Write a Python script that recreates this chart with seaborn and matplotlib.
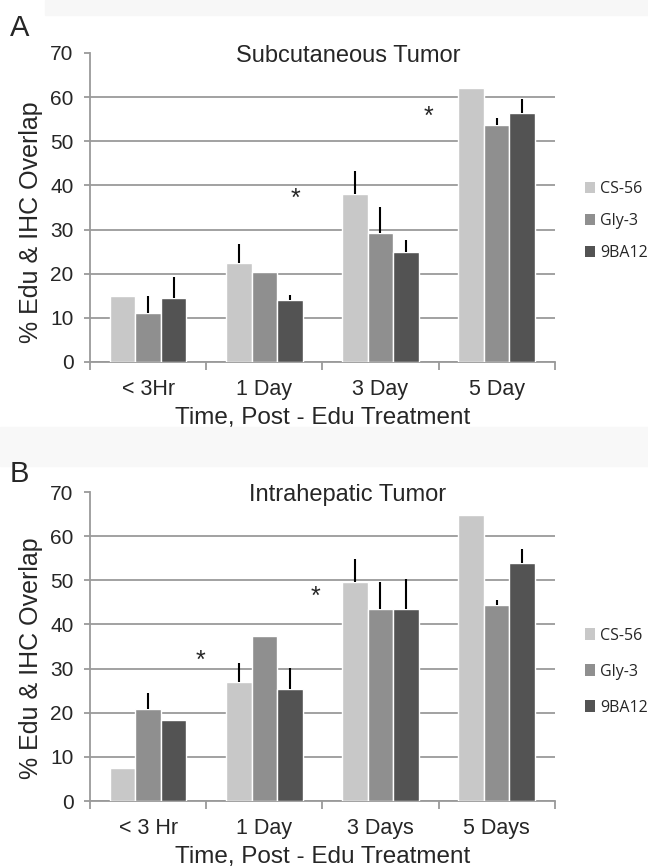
import numpy as np
import pandas as pd
import matplotlib
matplotlib.use('Agg')
import matplotlib.pyplot as plt
import seaborn as sns
from matplotlib.patches import Patch

# data
series = ['CS-56', 'Gly-3', '9BA12']
colors = ['#c8c8c8', '#8f8f8f', '#535353']

cats_a = ['< 3Hr', '1 Day', '3 Day', '5 Day']
cs56_a = [15.0, 22.4, 38.0, 62.0]
gly3_a = [11.2, 20.4, 29.2, 53.6]
ba12_a = [14.5, 14.0, 24.8, 56.4]
cs56_a_err = [0.0, 4.4, 5.2, 0.0]
gly3_a_err = [3.7, 0.0, 6.0, 1.6]
ba12_a_err = [4.7, 1.2, 2.8, 3.2]
stars_a = [(1.27, 37.0), (2.41, 55.6)]

cats_b = ['< 3 Hr', '1 Day', '3 Days', '5 Days']
cs56_b = [7.5, 27.0, 49.6, 64.8]
gly3_b = [20.8, 37.3, 43.6, 44.4]
ba12_b = [18.3, 25.4, 43.6, 54.0]
cs56_b_err = [0.0, 4.2, 5.2, 0.0]
gly3_b_err = [3.6, 0.0, 6.0, 1.2]
ba12_b_err = [0.0, 4.7, 6.8, 3.2]
stars_b = [(0.45, 31.8), (1.44, 46.3)]

sns.set_style('white')
plt.rcParams['font.family'] = ['Liberation Sans', 'DejaVu Sans']

fig = plt.figure(figsize=(6.48, 8.67), dpi=100)

# faint grey bands from the scanned figure
fig.patches.append(plt.Rectangle((0.07, 0.983), 0.93, 0.017, transform=fig.transFigure,
                                 color='#f7f7f7', zorder=0))
fig.patches.append(plt.Rectangle((0.0, 0.462), 1.0, 0.046, transform=fig.transFigure,
                                 color='#f8f8f8', zorder=0))


def panel(ax, cats, vals, errs, stars, title, ylab_y, leg_y, leg_space):
    df = pd.DataFrame({
        'time': list(cats) * 3,
        'series': [s for s in series for _ in cats],
        'value': vals[0] + vals[1] + vals[2],
    })
    sns.barplot(data=df, x='time', y='value', hue='series', order=cats,
                hue_order=series, palette=colors, width=0.66, gap=0,
                errorbar=None, saturation=1, ax=ax, zorder=3, legend=False)
    # one-sided error bars, no caps
    for cont, err in zip(ax.containers, errs):
        for bar, e in zip(cont, err):
            if e > 0:
                xc = bar.get_x() + bar.get_width() / 2
                h = bar.get_height()
                ax.vlines(xc, h, h + e, color='black', lw=1.5, zorder=4)
    for sx, sy in stars:
        ax.text(sx, sy, '*', ha='center', va='center', fontsize=18)
    ax.set_xlim(-0.5, 3.5)
    ax.set_ylim(0, 70)
    ax.set_yticks(range(0, 71, 10))
    ax.yaxis.grid(True, color='#9a9a9a', lw=1.3, zorder=0)
    ax.set_axisbelow(True)
    # no gridline at the top value
    ax.get_ygridlines()[-1].set_visible(False)
    for s in ['top', 'right']:
        ax.spines[s].set_visible(False)
    for s in ['left', 'bottom']:
        ax.spines[s].set_color('#9a9a9a')
        ax.spines[s].set_linewidth(1.3)
    ax.set_xticks([-0.5, 0.5, 1.5, 2.5, 3.5], minor=True)
    ax.tick_params(axis='x', which='major', length=0, labelsize=15.5, pad=12)
    ax.tick_params(axis='x', which='minor', length=6, width=1.3, color='#9a9a9a',
                   direction='out', bottom=True)
    ax.tick_params(axis='y', length=4, width=1.3, color='#9a9a9a', direction='out',
                   left=True, labelsize=15, pad=8)
    ax.set_xlabel('Time, Post - Edu Treatment', fontsize=17.5, labelpad=5)
    ax.set_ylabel('% Edu & IHC Overlap', fontsize=18, va='center')
    ax.yaxis.set_label_coords(-0.128, ylab_y)
    ax.set_title(title, fontsize=17, x=0.555, y=0.99, va='center', pad=0)
    handles = [Patch(facecolor=c, edgecolor='none') for c in colors]
    ax.legend(handles, series, loc='center left', bbox_to_anchor=(1.035, leg_y),
              frameon=False, handlelength=0.6, handleheight=0.7, handletextpad=0.35,
              labelspacing=leg_space, prop={'family': 'Open Sans', 'size': 11.5})


ax_a = fig.add_axes([0.139, 0.5825, 0.717, 0.3564])
panel(ax_a, cats_a, [cs56_a, gly3_a, ba12_a], [cs56_a_err, gly3_a_err, ba12_a_err],
      stars_a, 'Subcutaneous Tumor', 0.453, 0.455, 1.0)

ax_b = fig.add_axes([0.139, 0.0761, 0.717, 0.3564])
panel(ax_b, cats_b, [cs56_b, gly3_b, ba12_b], [cs56_b_err, gly3_b_err, ba12_b_err],
      stars_b, 'Intrahepatic Tumor', 0.463, 0.419, 1.25)

fig.text(0.015, 0.968, 'A', fontsize=21, va='center')
fig.text(0.015, 0.453, 'B', fontsize=21, va='center')

fig.savefig('out.png', dpi=100)
